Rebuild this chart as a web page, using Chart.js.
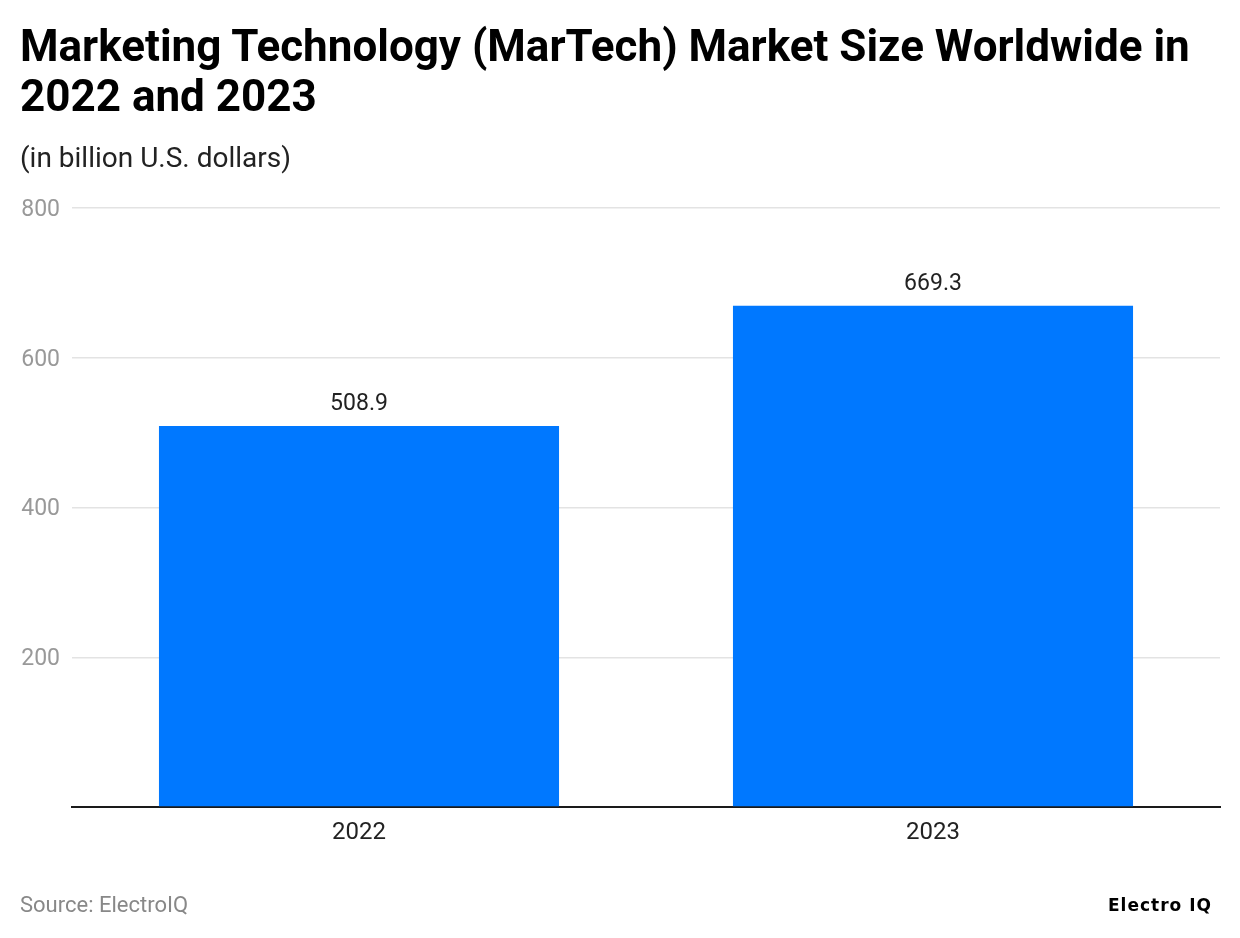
<!DOCTYPE html>
<html>
<head>
<meta charset="utf-8">
<script src="https://cdn.jsdelivr.net/npm/chart.js@4/dist/chart.umd.min.js"></script>
<style>
  html, body { margin: 0; padding: 0; background: #fff; }
  body { width: 1240px; height: 938px; position: relative; overflow: hidden; font-family: Roboto, sans-serif; }
  #title { position: absolute; left: 20px; top: 21px; font-size: 44px; font-weight: bold; line-height: 50px; color: #000; white-space: nowrap; }
  #sub { position: absolute; left: 20px; top: 141px; font-size: 28px; color: #222; }
  #src { position: absolute; left: 20px; top: 892px; font-size: 22px; color: #888; }
  #logo { position: absolute; left: 1108px; top: 895px; font-family: "DejaVu Sans", sans-serif; font-size: 17px; letter-spacing: 1px; font-weight: bold; color: #000; }
  canvas { position: absolute; left: 0; top: 0; }
</style>
</head>
<body>
<canvas id="myChart" width="1240" height="938"></canvas>
<div id="title">Marketing Technology (MarTech) Market Size Worldwide in<br>2022 and 2023</div>
<div id="sub">(in billion U.S. dollars)</div>
<div id="src">Source: ElectroIQ</div>
<div id="logo">Electro IQ</div>
<script>
var years = ['2022', '2023']
var market = [508.9, 669.3]
var yTicks = [0, 200, 400, 600, 800]

// value labels above the bars
var barLabels = {
  id: 'barLabels',
  afterDatasetsDraw: function(chart) {
    var ctx = chart.ctx
    var meta = chart.getDatasetMeta(0)
    ctx.save()
    ctx.font = '23px Roboto'
    ctx.fillStyle = '#222'
    ctx.textAlign = 'center'
    ctx.textBaseline = 'alphabetic'
    meta.data.forEach(function(bar, i) {
      ctx.fillText(market[i].toFixed(1), bar.x, bar.y - 16)
    })
    ctx.restore()
  }
}

var ctx = document.getElementById('myChart')
var myChart = new Chart(ctx, {
  type: 'bar',
  data: {
    labels: years,
    datasets: [{
      data: market,
      backgroundColor: '#0078ff',
      barPercentage: 0.697,
      categoryPercentage: 1
    }]
  },
  options: {
    responsive: false,
    animation: false,
    layout: { padding: { top: 208, left: 0, right: 20, bottom: 81 } },
    plugins: { legend: { display: false }, tooltip: { enabled: false } },
    scales: {
      x: {
        grid: { display: false, drawTicks: false },
        border: { display: true, color: '#1a1a1a', width: 2 },
        ticks: { color: '#222', font: { size: 24, family: 'Roboto' }, padding: 12 },
        afterFit: function(s) { s.height = 50 }
      },
      y: {
        min: yTicks[0],
        max: yTicks[yTicks.length - 1],
        afterBuildTicks: function(s) { s.ticks = yTicks.map(function(v) { return { value: v } }) },
        grid: { color: '#e3e3e3', lineWidth: 1.5, drawTicks: false },
        border: { display: false },
        ticks: {
          color: '#999',
          font: { size: 23, family: 'Roboto' },
          padding: 12,
          labelOffset: 2,
          callback: function(v) { return v === 0 ? '' : v }
        },
        afterFit: function(s) { s.width = 72 }
      }
    }
  },
  plugins: [barLabels]
})
</script>
</body>
</html>
